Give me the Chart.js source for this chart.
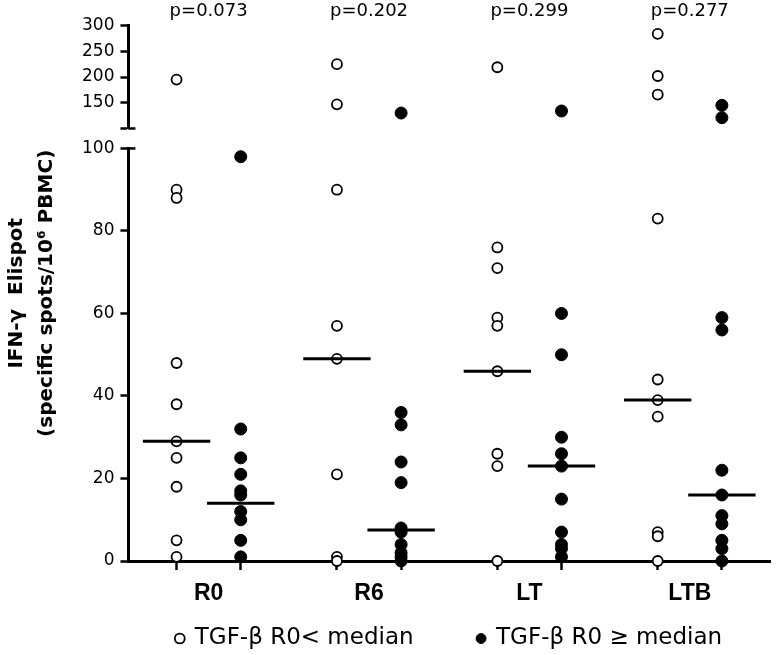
<!DOCTYPE html>
<html>
<head>
<meta charset="utf-8">
<title>IFN-γ Elispot by TGF-β group</title>
<script src="https://cdn.jsdelivr.net/npm/chart.js@4.4.1/dist/chart.umd.min.js"></script>
<style>
    html, body { margin: 0; padding: 0; background: #fff; }
    #wrap { width: 777px; height: 655px; position: relative; }
</style>
</head>
<body>
<div id="wrap"><canvas id="elispot-chart"></canvas></div>
<script>
// Data
const categories = ['R0', 'R6', 'LT', 'LTB'];
const pValues = ['p=0.073', 'p=0.202', 'p=0.299', 'p=0.277'];

// open circles: TGF-β R0 < median
const belowMedian = [
    [195, 90, 88, 48, 38, 29, 25, 18, 5, 1],
    [225, 147, 90, 57, 49, 21, 1, 0],
    [219, 76, 71, 59, 57, 46, 26, 23, 0],
    [284, 202, 166, 83, 44, 39, 35, 7, 6, 0]
];
// filled circles: TGF-β R0 >= median
const aboveMedian = [
    [98, 32, 25, 21, 17, 16, 12, 10, 5, 1],
    [130, 36, 33, 24, 19, 8, 7, 4, 2, 1, 0],
    [134, 60, 50, 30, 26, 23, 15, 7, 4, 3, 1],
    [145, 121, 59, 56, 22, 16, 11, 9, 5, 3, 0]
];
const belowMedianLine = [29, 49, 46, 39];
const aboveMedianLine = [14, 7.5, 23, 16];

const lowerTicks = [0, 20, 40, 60, 80, 100];
const upperTicks = [100, 150, 200, 250, 300];
const breakValue = 100;

const legendLabels = ['TGF-β R0< median', 'TGF-β R0 \u2265 median'];

// column offsets inside each group, in x units
const OPEN_OFFSET = -0.2;
const FILLED_OFFSET = 0.2;
const HALF_MEDIAN = 0.21;

Chart.defaults.font.family = "'DejaVu Sans', sans-serif";
Chart.defaults.color = '#000';

function splitPoints(series, offset, upper) {
    const points = [];
    series.forEach((values, i) => {
        values.forEach(v => {
            if ((v > breakValue) === upper) points.push({ x: i + offset, y: v });
        });
    });
    return points;
}

function medianSegments(medians, offset) {
    const points = [];
    medians.forEach((m, i) => {
        points.push({ x: i + offset - HALF_MEDIAN, y: m });
        points.push({ x: i + offset + HALF_MEDIAN, y: m });
        points.push({ x: i + offset, y: null }); // break between groups
    });
    return points;
}

const openStyle = {
    pointStyle: 'circle',
    pointRadius: 5,
    pointBackgroundColor: '#fff',
    pointBorderColor: '#000',
    pointBorderWidth: 1.8,
    backgroundColor: '#fff',
    borderColor: '#000',
    borderWidth: 1.8,
    showLine: false,
    clip: false,
    order: 1
};
const filledStyle = {
    pointStyle: 'circle',
    pointRadius: 6,
    pointBackgroundColor: '#000',
    pointBorderColor: '#000',
    pointBorderWidth: 1,
    backgroundColor: '#000',
    borderColor: '#000',
    borderWidth: 1,
    showLine: false,
    clip: false,
    order: 2
};
const medianStyle = {
    showLine: true,
    spanGaps: false,
    borderColor: '#000',
    borderWidth: 3,
    pointRadius: 0,
    clip: false,
    order: 0
};

const columnTicks = [];
categories.forEach((c, i) => columnTicks.push(i + OPEN_OFFSET, i, i + FILLED_OFFSET));

// short caps on the right side of the axis break
const breakCaps = {
    id: 'breakCaps',
    afterDraw(chart) {
        const { ctx, chartArea } = chart;
        ctx.save();
        ctx.strokeStyle = '#000';
        ctx.lineWidth = 2.5;
        ['yTop', 'yBottom'].forEach(id => {
            const y = chart.scales[id].getPixelForValue(breakValue);
            ctx.beginPath();
            ctx.moveTo(chartArea.left, y);
            ctx.lineTo(chartArea.left + 7, y);
            ctx.stroke();
        });
        ctx.restore();
    }
};

const yTickStyle = {
    font: { size: 17 },
    padding: 6,
    autoSkip: false,
    color: '#000'
};
const yGridStyle = {
    drawOnChartArea: false,
    tickLength: 8,
    tickWidth: 2.5,
    tickColor: '#000'
};
const hiddenGrid = { display: false, drawTicks: false };

new Chart(document.getElementById('elispot-chart'), {
    type: 'scatter',
    data: {
        datasets: [
            Object.assign({ data: medianSegments(belowMedianLine, OPEN_OFFSET), yAxisID: 'yBottom' }, medianStyle),
            Object.assign({ data: medianSegments(aboveMedianLine, FILLED_OFFSET), yAxisID: 'yBottom' }, medianStyle),
            Object.assign({ label: legendLabels[0], data: splitPoints(belowMedian, OPEN_OFFSET, false), yAxisID: 'yBottom' }, openStyle),
            Object.assign({ data: splitPoints(belowMedian, OPEN_OFFSET, true), yAxisID: 'yTop' }, openStyle),
            Object.assign({ label: legendLabels[1], data: splitPoints(aboveMedian, FILLED_OFFSET, false), yAxisID: 'yBottom' }, filledStyle),
            Object.assign({ data: splitPoints(aboveMedian, FILLED_OFFSET, true), yAxisID: 'yTop' }, filledStyle)
        ]
    },
    options: {
        responsive: true,
        maintainAspectRatio: false,
        animation: false,
        layout: {
            padding: { top: -2, left: 0, right: 4, bottom: -5 }
        },
        plugins: {
            tooltip: { enabled: false },
            legend: {
                position: 'bottom',
                fullSize: false,
                labels: {
                    usePointStyle: true,
                    boxWidth: 7,
                    boxHeight: 7,
                    padding: 18,
                    color: '#000',
                    font: { size: 23 },
                    generateLabels: chart => {
                        const items = Chart.defaults.plugins.legend.labels.generateLabels(chart)
                            .filter(item => !!item.text);
                        // wider gap after the first entry, like the original key
                        items[0].text += '\u2003\u2003';
                        return items;
                    }
                }
            }
        },
        scales: {
            // full height axis that only carries the title, so it centres on both segments
            yTitle: {
                type: 'linear',
                position: 'left',
                weight: 10,
                min: 0,
                max: 1,
                ticks: { display: false },
                grid: hiddenGrid,
                border: { display: false },
                title: {
                    display: true,
                    text: ['IFN-\u03b3  Elispot', '(specific spots/10\u2076 PBMC)'],
                    font: { size: 20, weight: 'bold', lineHeight: 1.5 },
                    padding: { top: 2, bottom: 14 }
                }
            },
            yTop: {
                type: 'linear',
                position: 'left',
                stack: 'y',
                stackWeight: 103,
                weight: 3,
                min: upperTicks[0],
                max: upperTicks[upperTicks.length - 1],
                afterBuildTicks: scale => { scale.ticks = upperTicks.map(v => ({ value: v })); },
                ticks: Object.assign({ callback: v => (v === breakValue ? '' : v) }, yTickStyle),
                grid: yGridStyle,
                border: { display: true, color: '#000', width: 3 }
            },
            yGap: {
                type: 'linear',
                position: 'left',
                stack: 'y',
                stackWeight: 20,
                weight: 2,
                min: 0,
                max: 1,
                ticks: { display: false },
                grid: hiddenGrid,
                border: { display: false }
            },
            yBottom: {
                type: 'linear',
                position: 'left',
                stack: 'y',
                stackWeight: 413,
                weight: 1,
                min: lowerTicks[0],
                max: lowerTicks[lowerTicks.length - 1],
                afterBuildTicks: scale => { scale.ticks = lowerTicks.map(v => ({ value: v })); },
                ticks: yTickStyle,
                grid: yGridStyle,
                border: { display: true, color: '#000', width: 3 }
            },
            x: {
                type: 'linear',
                position: 'bottom',
                min: -0.5,
                max: categories.length - 0.5,
                afterBuildTicks: scale => { scale.ticks = columnTicks.map(v => ({ value: v })); },
                // keep the band under the axis tight so the key sits just below the labels
                afterFit: scale => { scale.height = 48; },
                ticks: {
                    autoSkip: false,
                    maxRotation: 0,
                    padding: 10,
                    font: { family: "'Liberation Sans', Arial, sans-serif", size: 23, weight: 'bold' },
                    callback: v => (Number.isInteger(v) ? categories[v] : '')
                },
                grid: {
                    drawOnChartArea: false,
                    tickLength: 9,
                    tickWidth: 2.5,
                    tickColor: ctx => (Number.isInteger(ctx.tick.value) ? 'rgba(0,0,0,0)' : '#000')
                },
                border: { display: true, color: '#000', width: 3 }
            },
            xTop: {
                type: 'linear',
                position: 'top',
                min: -0.5,
                max: categories.length - 0.5,
                afterBuildTicks: scale => { scale.ticks = categories.map((c, i) => ({ value: i })); },
                ticks: {
                    autoSkip: false,
                    maxRotation: 0,
                    padding: 3,
                    font: { size: 18 },
                    callback: (v, i) => pValues[i]
                },
                grid: hiddenGrid,
                border: { display: false }
            }
        }
    },
    plugins: [breakCaps]
});
</script>
</body>
</html>
